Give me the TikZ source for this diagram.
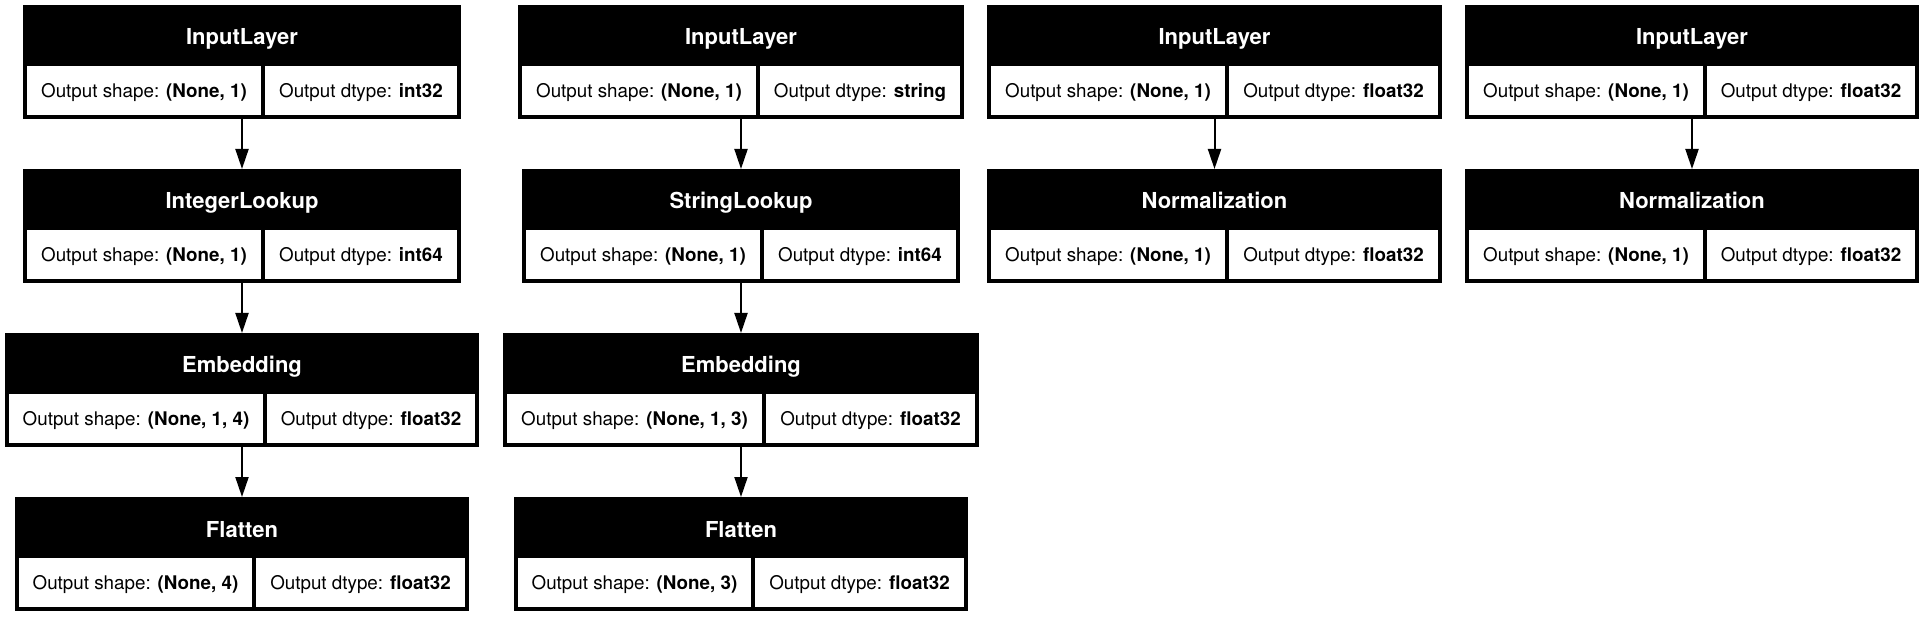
\documentclass[tikz,border=0pt]{standalone}
\usepackage{fontspec}
\setmainfont{TeX Gyre Heros}
\usetikzlibrary{arrows.meta,positioning}

\begin{document}
\begin{tikzpicture}[x=1pt,y=-1pt,
  layer/.style={fill=black,draw=none,minimum height=114pt,inner sep=0pt,outer sep=0pt},
  title/.style={anchor=base,text=white,font=\fontsize{22}{26}\selectfont\bfseries,inner sep=0pt},
  cell/.style={fill=white,minimum height=49pt,inner sep=0pt,text height=13.6pt,text depth=0pt,font=\fontsize{18.8}{22}\selectfont},
  flow/.style={line width=2pt,-{Triangle[length=20pt,width=13pt]}}]
  \useasboundingbox (0,0) rectangle (1924,617);

  % Column 1: integer feature
  \node[layer,minimum width=438pt] (in1) at (242,62) {};
  \node[title] (in1t) at (242,45) {InputLayer};
  \node[cell,minimum width=234pt] (in1s) at (144,90.5) {Output shape: \textbf{(None, 1)}};
  \node[cell,minimum width=192pt] (in1d) at (361,90.5) {Output dtype: \textbf{int32}};

  \node[layer,minimum width=438pt] (lk1) at (242,226) {};
  \node[title] (lk1t) at (242,209) {IntegerLookup};
  \node[cell,minimum width=234pt] (lk1s) at (144,254.5) {Output shape: \textbf{(None, 1)}};
  \node[cell,minimum width=192pt] (lk1d) at (361,254.5) {Output dtype: \textbf{int64}};

  \node[layer,minimum width=474pt] (em1) at (242,390) {};
  \node[title] (em1t) at (242,373) {Embedding};
  \node[cell,minimum width=254pt] (em1s) at (136,418.5) {Output shape: \textbf{(None, 1, 4)}};
  \node[cell,minimum width=208pt] (em1d) at (371,418.5) {Output dtype: \textbf{float32}};

  \node[layer,minimum width=454pt] (fl1) at (242,554) {};
  \node[title] (fl1t) at (242,537) {Flatten};
  \node[cell,minimum width=233pt] (fl1s) at (135.5,582.5) {Output shape: \textbf{(None, 4)}};
  \node[cell,minimum width=209pt] (fl1d) at (360.5,582.5) {Output dtype: \textbf{float32}};

  % Column 2: string feature
  \node[layer,minimum width=446pt] (in2) at (741,62) {};
  \node[title] (in2t) at (741,45) {InputLayer};
  \node[cell,minimum width=234pt] (in2s) at (639,90.5) {Output shape: \textbf{(None, 1)}};
  \node[cell,minimum width=200pt] (in2d) at (860,90.5) {Output dtype: \textbf{string}};

  \node[layer,minimum width=438pt] (lk2) at (741,226) {};
  \node[title] (lk2t) at (741,209) {StringLookup};
  \node[cell,minimum width=234pt] (lk2s) at (643,254.5) {Output shape: \textbf{(None, 1)}};
  \node[cell,minimum width=192pt] (lk2d) at (860,254.5) {Output dtype: \textbf{int64}};

  \node[layer,minimum width=476pt] (em2) at (741,390) {};
  \node[title] (em2t) at (741,373) {Embedding};
  \node[cell,minimum width=255pt] (em2s) at (634.5,418.5) {Output shape: \textbf{(None, 1, 3)}};
  \node[cell,minimum width=209pt] (em2d) at (870.5,418.5) {Output dtype: \textbf{float32}};

  \node[layer,minimum width=454pt] (fl2) at (741,554) {};
  \node[title] (fl2t) at (741,537) {Flatten};
  \node[cell,minimum width=233pt] (fl2s) at (634.5,582.5) {Output shape: \textbf{(None, 3)}};
  \node[cell,minimum width=209pt] (fl2d) at (859.5,582.5) {Output dtype: \textbf{float32}};

  % Column 3: numeric feature
  \node[layer,minimum width=455pt] (in3) at (1214.5,62) {};
  \node[title] (in3t) at (1214.5,45) {InputLayer};
  \node[cell,minimum width=234pt] (in3s) at (1108,90.5) {Output shape: \textbf{(None, 1)}};
  \node[cell,minimum width=209pt] (in3d) at (1333.5,90.5) {Output dtype: \textbf{float32}};

  \node[layer,minimum width=455pt] (no3) at (1214.5,226) {};
  \node[title] (no3t) at (1214.5,209) {Normalization};
  \node[cell,minimum width=234pt] (no3s) at (1108,254.5) {Output shape: \textbf{(None, 1)}};
  \node[cell,minimum width=209pt] (no3d) at (1333.5,254.5) {Output dtype: \textbf{float32}};

  % Column 4: numeric feature
  \node[layer,minimum width=454pt] (in4) at (1692,62) {};
  \node[title] (in4t) at (1692,45) {InputLayer};
  \node[cell,minimum width=234pt] (in4s) at (1586,90.5) {Output shape: \textbf{(None, 1)}};
  \node[cell,minimum width=208pt] (in4d) at (1811,90.5) {Output dtype: \textbf{float32}};

  \node[layer,minimum width=454pt] (no4) at (1692,226) {};
  \node[title] (no4t) at (1692,209) {Normalization};
  \node[cell,minimum width=234pt] (no4s) at (1586,254.5) {Output shape: \textbf{(None, 1)}};
  \node[cell,minimum width=208pt] (no4d) at (1811,254.5) {Output dtype: \textbf{float32}};

  % Arrows
  \draw[flow] (in1) -- (lk1);
  \draw[flow] (lk1) -- (em1);
  \draw[flow] (em1) -- (fl1);
  \draw[flow] (in2) -- (lk2);
  \draw[flow] (lk2) -- (em2);
  \draw[flow] (em2) -- (fl2);
  \draw[flow] (in3) -- (no3);
  \draw[flow] (in4) -- (no4);
\end{tikzpicture}
\end{document}
